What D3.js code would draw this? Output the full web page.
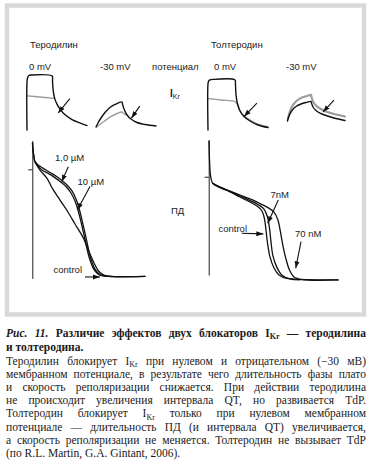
<!DOCTYPE html>
<html>
<head>
<meta charset="utf-8">
<script src="https://cdn.jsdelivr.net/npm/d3@7"></script>
<style>
  body { margin: 0; background: #fff; }
  svg { display: block; }
</style>
</head>
<body>
<div id="chart"></div>
<script>
// I_Kr traces, [time a.u., current a.u.]
const tero0Control = [[0,0],[0,87],[1,95],[3,99],[8,100],[42,98],[42.5,90],[43.5,73],[46,58],[50,47],[55,38],[63,28],[75,19],[88,13],[100,8]];
const tero0Drug = [[0,62],[21,60],[44,57.5]];
const tero30Control = [[0,5.5],[3.3,12.7],[8.3,21.8],[15,31.8],[23.3,40.9],[31.7,46.4],[43.3,50.9],[44.2,47.3],[46.7,38.2],[51.7,27.3],[58.3,20],[68.3,13.6],[81.7,10],[100,7.3]];
const tero30Drug = [[0.8,5.5],[13.3,15.5],[26.7,25.5],[43.3,32.7],[45,30.9],[50,27.5]];
const tolt0Control = [[0,0],[0,84],[1,89],[3.3,91],[8.3,92],[45,91],[45.7,84],[46.7,64],[49.2,47.3],[53.3,34.5],[60,24.5],[70,16.4],[83.3,9.1],[100,4.5]];
const tolt0Drug = [[0,57.3],[22,54.5],[45,51.8],[47,49],[49.2,47.3],[53.3,35.5],[60,26],[70,18],[83.3,10.8],[100,6]];
const tolt30Control = [[0.8,16.4],[3.3,25.5],[8.3,35.5],[15,42.7],[23.3,47.3],[31.7,50],[40,51.8],[40.8,49.1],[43.3,41.8],[48.3,35.5],[55,30.9],[65,26.4],[78.3,21.8],[96.7,17.3]];
const tolt30Drug = [[1.5,20],[5,34.5],[10,45.5],[16.7,53.6],[25,59.1],[33.3,61.8],[40,63.6],[40.8,60],[43.3,51.8],[48.3,44.5],[55,39.1],[65,33.6],[78.3,29.1],[96.7,24.5]];

// action potentials, [time ms, mV]
const apTeroControl = [[0.4,20.9],[1.4,15.3],[3.4,9.8],[5.4,6],[15.4,-0.6],[28.8,-6.9],[42,-16.4],[55.4,-24.4],[68.8,-32.3],[85.4,-43.4],[102,-54.6],[115.4,-67.3],[125.4,-76],[133.4,-81.2],[143.4,-84],[159.4,-85],[225.4,-85.1]];
const apTero1uM = [[0.4,20.9],[1.4,15.3],[3.4,9.8],[5.4,6],[19.4,1.4],[35.4,-2.5],[51.4,-6.5],[67.4,-11.7],[79.4,-17.2],[87.4,-23.6],[93.4,-30.7],[99.4,-40.3],[105.4,-50.6],[111.4,-61.7],[117.4,-71.3],[125.4,-79.3],[135.4,-83.6],[151.4,-85],[225.4,-85.1]];
const apTero10uM = [[5.4,6],[19.4,-0.6],[35.4,-4],[51.4,-8.4],[67.4,-13.6],[77.4,-18.8],[85.4,-25.1],[91.4,-32.3],[97.4,-41.8],[103.4,-52.1],[109.4,-63.2],[115.4,-72],[123.4,-79.6],[133.4,-83.6],[149.4,-85]];
const apToltControl = [[0.6,28.3],[1.6,13.3],[3.6,1.3],[8,-5.2],[22.6,-8.6],[42.6,-12.1],[62.6,-16.1],[82.6,-20.1],[96.6,-23.3],[106.6,-27.2],[111.6,-33.6],[114.6,-42.3],[117.6,-52.6],[122.6,-63.7],[130.6,-72.5],[140.6,-78],[156.6,-80.8],[182.6,-81.6],[258.6,-82]];
const apTolt7nM = [[8,-5.2],[22.6,-8.3],[42.6,-11.6],[62.6,-15.3],[82.6,-18.9],[98.6,-22.1],[110.6,-25.7],[117.6,-32],[121.6,-40.8],[124.6,-51.9],[128.6,-63.1],[136.6,-72.2],[146.6,-78.2],[162.6,-81.2],[182.6,-81.9]];
const apTolt70nM = [[8,-5.2],[22.6,-8.3],[42.6,-11.4],[62.6,-14.5],[82.6,-17.6],[102.6,-21.3],[118.6,-24.5],[130.6,-28.1],[138.6,-34.5],[143.6,-44],[148.6,-55.1],[154.6,-65.4],[161.6,-74.1],[170.6,-79.7],[186.6,-81.7],[258.6,-82]];

// labels
const drugNames = ["Теродилин", "Толтеродин"];
const potentials = ["0 mV", "-30 mV"];
const teroConc = ["1,0 µM", "10 µM", "control"];
const toltConc = ["7nM", "control", "70 nM"];

const captionLines = [
  "*Рис. *11. Различие эффектов двух блокаторов I_Kr — теродилина",
  "и толтеродина."
];
const bodyLines = [
  "Теродилин блокирует I_Kr при нулевом и отрицательном (−30 мВ)",
  "мембранном потенциале, в результате чего длительность фазы плато",
  "и скорость реполяризации снижается. При действии теродилина",
  "не происходит увеличения интервала QT, но развивается TdP.",
  "Толтеродин блокирует I_Kr только при нулевом мембранном",
  "потенциале — длительность ПД (и интервала QT) увеличивается,",
  "а скорость реполяризации не меняется. Толтеродин не вызывает TdP",
  "(по R.L. Martin, G.A. Gintant, 2006)."
];

const width = 372;
const height = 474;
const sans = "'Liberation Sans', Arial, sans-serif";
const serif = "'Liberation Serif', 'Times New Roman', serif";

const svg = d3.select("#chart").append("svg")
  .attr("width", width)
  .attr("height", height);

svg.append("defs").append("marker")
  .attr("id", "ah")
  .attr("viewBox", "0 0 10 10")
  .attr("refX", 10).attr("refY", 5)
  .attr("markerUnits", "userSpaceOnUse")
  .attr("markerWidth", 7).attr("markerHeight", 7)
  .attr("orient", "auto")
  .append("path").attr("d", "M0,1.5L10,5L0,8.5Z").attr("fill", "#111");

// frame
svg.append("rect")
  .attr("x", 7).attr("y", 5.5)
  .attr("width", 357).attr("height", 309)
  .attr("fill", "none")
  .attr("stroke", "#d9d9d9")
  .attr("stroke-width", 4.5);

const line = (x, y) => d3.line()
  .x(d => x(d[0]))
  .y(d => y(d[1]))
  .curve(d3.curveCatmullRom.alpha(0.5));

function trace(data, x, y, color, w) {
  svg.append("path")
    .attr("d", line(x, y)(data))
    .attr("fill", "none")
    .attr("stroke", color)
    .attr("stroke-width", w)
    .attr("stroke-linejoin", "round")
    .attr("stroke-linecap", "round");
}

function arrow(x, y, from, to) {
  svg.append("line")
    .attr("x1", x(from[0])).attr("y1", y(from[1]))
    .attr("x2", x(to[0])).attr("y2", y(to[1]))
    .attr("stroke", "#111")
    .attr("stroke-width", 1.1)
    .attr("marker-end", "url(#ah)");
}

function label(txt, x, y, size) {
  return svg.append("text")
    .attr("x", x).attr("y", y)
    .attr("font-family", sans)
    .attr("font-size", size || 9.5)
    .attr("fill", "#222")
    .text(txt);
}

// current panels
const gray = "#9c9c9c";
const panels = [
  { x0: 27, ctrl: tero0Control, drug: tero0Drug, arr: [[71.5, 57], [52, 31]] },
  { x0: 96, ctrl: tero30Control, drug: tero30Drug, arr: [[73, 43.5], [59, 21.5]] },
  { x0: 208, ctrl: tolt0Control, drug: tolt0Drug, arr: [[81.5, 49], [60, 24.5]] },
  { x0: 287, ctrl: tolt30Control, drug: tolt30Drug, arr: [[78.3, 54.5], [60, 32.7]] }
];
panels.forEach((p, i) => {
  const x = d3.scaleLinear().domain([0, 100]).range([p.x0, p.x0 + 60]);
  const y = d3.scaleLinear().domain([0, 100]).range([130, 75]);
  trace(p.drug, x, y, gray, i === 3 ? 2.2 : 1.4);
  trace(p.ctrl, x, y, "#111", 1.4);
  arrow(x, y, p.arr[0], p.arr[1]);
});

// AP panels
const xL = d3.scaleLinear().domain([0, 226]).range([32.3, 145.3]);
const yL = d3.scaleLinear().domain([-86, 22]).range([277.6, 141.6]);
const xR = d3.scaleLinear().domain([0, 259]).range([208.7, 338.2]);
const yR = d3.scaleLinear().domain([-82.5, 28]).range([280.6, 141.5]);

function apAxis(y, ext, xPos) {
  const ay = y.copy().domain(ext).range(ext.map(y));
  const g = svg.append("g")
    .attr("transform", `translate(${xPos},0)`)
    .call(d3.axisLeft(ay).tickValues([0]).tickSize(4).tickSizeOuter(0).tickFormat(""));
  g.selectAll("path, line").attr("stroke", "#222").attr("stroke-width", 1);
}
apAxis(yL, [-86.6, 22.8], 32.3);
apAxis(yR, [-78.1, 29.5], 208.7);

[apTeroControl, apTero10uM, apTero1uM].forEach(d => trace(d, xL, yL, "#111", 1.3));
[apToltControl, apTolt7nM, apTolt70nM].forEach(d => trace(d, xR, yR, "#111", 1.3));

arrow(xL, yL, [72, 2.1], [58.8, -9.8]);
arrow(xL, yL, [115.4, -13.6], [90, -32.3]);
arrow(xL, yL, [105.4, -85.5], [135.4, -85.5]);
arrow(xR, yR, [139.2, -18.4], [118, -37]);
arrow(xR, yR, [66, -44.9], [109.2, -45.4]);
arrow(xR, yR, [184.6, -51.6], [174, -72.7]);

// text labels
label(drugNames[0], 30, 48);
label(drugNames[1], 211, 48);
label(potentials[0], 29, 70);
label(potentials[1], 100, 70);
label("потенциал", 152, 70);
label(potentials[0], 214, 70);
label(potentials[1], 286, 70);

const ikr = label("", 170, 97, 10);
ikr.append("tspan").attr("font-weight", "bold").text("I");
ikr.append("tspan").attr("font-size", 7).attr("dy", 2).text("Kr");
label("ПД", 171, 214);

label(teroConc[0], 55, 161);
label(teroConc[1], 77.5, 185);
label(teroConc[2], 53.5, 273);
label(toltConc[0], 270.5, 198);
label(toltConc[1], 218.5, 232);
label(toltConc[2], 295, 237);

// caption and body text, justified per line
function textLine(y, str, opts) {
  const size = opts.size;
  const words = str.split(" ");
  const g = svg.append("g")
    .attr("font-family", serif)
    .attr("font-size", size)
    .attr("font-weight", opts.weight || "normal")
    .attr("fill", "#1b1b1b");
  const nodes = words.map(w => {
    const t = g.append("text").attr("y", y);
    if (w.startsWith("*")) { t.attr("font-style", "italic"); w = w.slice(1); }
    const parts = w.split("_Kr");
    if (parts.length > 1) {
      t.append("tspan").text(parts[0]);
      t.append("tspan").attr("font-size", size * 0.7).attr("dy", size * 0.2).text("Kr");
      if (parts[1]) t.append("tspan").attr("dy", -size * 0.2).text(parts[1]);
    } else {
      t.text(w);
    }
    return t;
  });
  const widths = nodes.map(n => n.node().getComputedTextLength());
  const x0 = 6, x1 = 366;
  const gap = opts.justify && nodes.length > 1
    ? (x1 - x0 - d3.sum(widths)) / (nodes.length - 1)
    : size * 0.25;
  let x = x0;
  nodes.forEach((n, i) => { n.attr("x", x); x += widths[i] + gap; });
}

textLine(337, captionLines[0], { size: 11.5, weight: "bold", justify: true });
textLine(350.5, captionLines[1], { size: 11.5, weight: "bold", justify: false });
bodyLines.forEach((s, i) => {
  textLine(364.5 + i * 13.2, s, { size: 11.5, justify: i !== 7 });
});
</script>
</body>
</html>
